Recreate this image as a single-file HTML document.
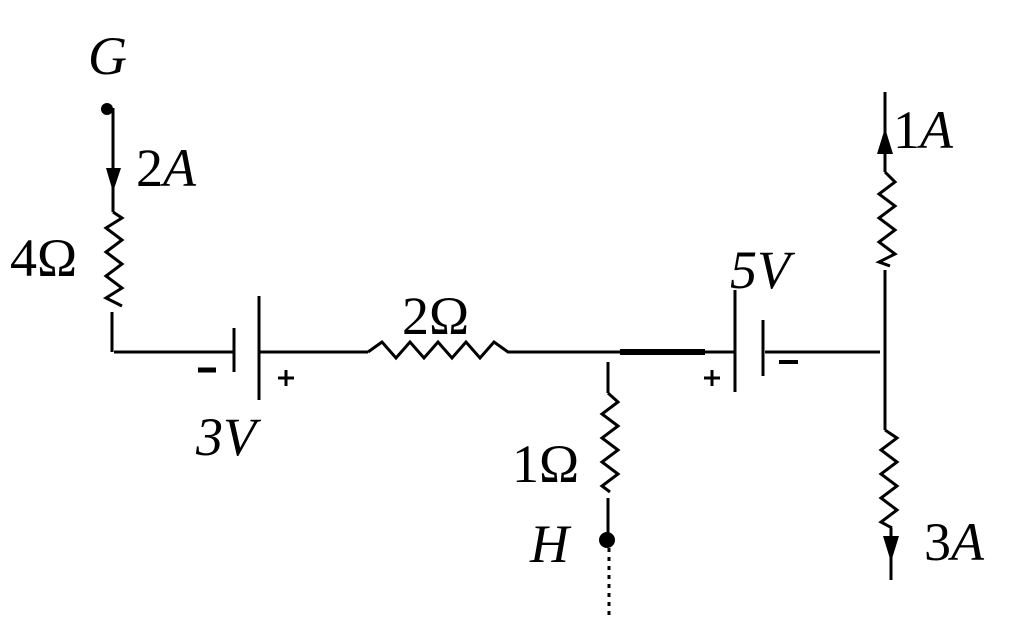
<!DOCTYPE html>
<html><head><meta charset="utf-8"><style>
html,body{margin:0;padding:0;background:#fff;}
svg{display:block}
text{font-family:"Liberation Serif",serif;font-size:54px;fill:#000}
.i{font-style:italic}
</style></head><body>
<svg width="1023" height="626" viewBox="0 0 1023 626" xmlns="http://www.w3.org/2000/svg">
<g stroke="#000" stroke-width="3" fill="none" stroke-linejoin="miter">
<line x1="113" y1="108" x2="113" y2="212"/>
<polyline points="113,212 122,218 106,228 122,240 106,252 122,264 106,276 122,288 106,298 122,306"/>
<line x1="112" y1="312" x2="112" y2="352"/>
<line x1="114" y1="352" x2="234" y2="352"/>
<line x1="234" y1="328" x2="234" y2="372"/>
<line x1="259" y1="296" x2="259" y2="400"/>
<line x1="260" y1="352" x2="368" y2="352"/>
<polyline points="368,352 382,342 396,358 410,342 424,358 438,342 452,358 466,342 480,358 494,342 508,352 735,352"/>
<line x1="620" y1="352" x2="705" y2="352" stroke-width="6"/>
<line x1="608" y1="362" x2="608" y2="393"/>
<polyline points="608,393 618,402 602,414 618,426 602,438 618,450 602,462 618,474 602,486 610,492"/>
<line x1="608" y1="498" x2="608" y2="538"/>
<line x1="609" y1="548" x2="609" y2="615" stroke-dasharray="4,5"/>
<line x1="735" y1="290" x2="735" y2="392"/>
<line x1="763" y1="320" x2="763" y2="376"/>
<line x1="765" y1="352" x2="880" y2="352"/>
<line x1="885" y1="92" x2="885" y2="172"/>
<polyline points="885,172 895,182 879,194 895,206 879,218 895,230 879,242 895,254 879,262 890,266"/>
<line x1="885" y1="270" x2="885" y2="430"/>
<polyline points="885,430 897,438 881,450 897,462 881,474 897,486 881,498 897,510 881,522 892,528"/>
<line x1="891" y1="528" x2="891" y2="580"/>
<line x1="198" y1="370" x2="216" y2="370" stroke-width="5"/>
<line x1="278" y1="378" x2="294" y2="378"/>
<line x1="286" y1="370" x2="286" y2="386"/>
<line x1="704" y1="378" x2="720" y2="378"/>
<line x1="712" y1="370" x2="712" y2="386"/>
<line x1="779" y1="362" x2="798" y2="362" stroke-width="4"/>
</g>
<g fill="#000">
<circle cx="107" cy="109" r="6"/>
<circle cx="607" cy="540" r="8"/>
<polygon points="106,168 121,168 113,192"/>
<polygon points="877,154 893,154 885,128"/>
<polygon points="883,536 899,536 891,562"/>
</g>
<text class="i" x="88" y="74">G</text>
<text x="136" y="186">2<tspan class="i">A</tspan></text>
<text x="10" y="276">4Ω</text>
<text class="i" x="196" y="455">3V</text>
<text x="402" y="334">2Ω</text>
<text x="512" y="482">1Ω</text>
<text class="i" x="530" y="562">H</text>
<text class="i" x="730" y="288">5V</text>
<text x="893" y="148">1<tspan class="i">A</tspan></text>
<text x="924" y="560">3<tspan class="i">A</tspan></text>
</svg>
</body></html>
